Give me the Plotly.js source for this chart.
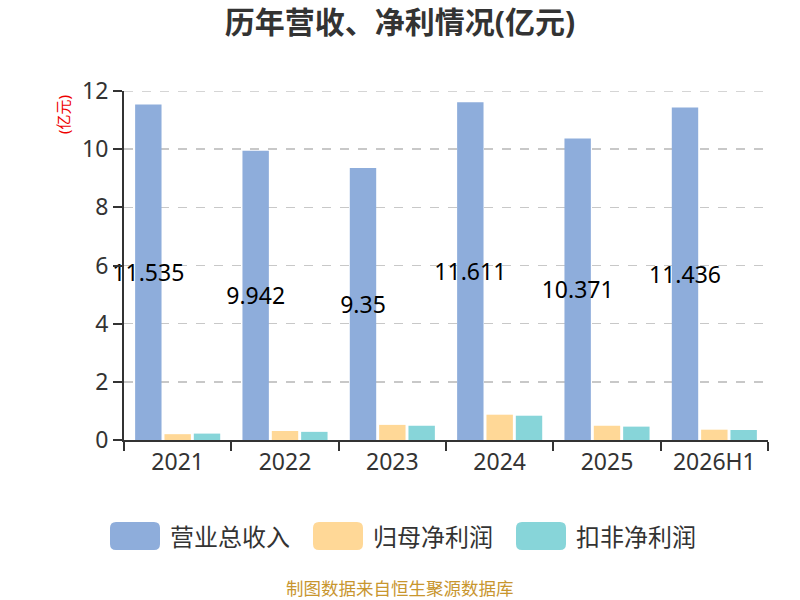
<!DOCTYPE html>
<html>
<head>
<meta charset="utf-8">
<script src="https://cdn.plot.ly/plotly-3.0.1.min.js"></script>
<style>
  html, body { margin: 0; padding: 0; background: #fff; }
  #chart_container { width: 800px; height: 600px; }
</style>
</head>
<body>
<div id="chart_container"></div>
<script>
var years = ['2021', '2022', '2023', '2024', '2025', '2026H1'];
var revenue = [11.535, 9.942, 9.35, 11.611, 10.371, 11.436];
var netProfit = [0.20, 0.31, 0.52, 0.87, 0.49, 0.355];
var deductedProfit = [0.22, 0.28, 0.49, 0.835, 0.46, 0.345];
var seriesNames = ['营业总收入', '归母净利润', '扣非净利润'];
var seriesColors = ['#8eaddb', '#ffd897', '#87d5d9'];
var yMax = 12;

var font = '"Noto Sans", "Noto Sans CJK SC", sans-serif';

var traces = [
  {
    x: years, y: revenue, name: seriesNames[0], type: 'bar',
    marker: {color: seriesColors[0]},
    text: revenue.map(String),
    textposition: 'inside',
    insidetextanchor: 'middle',
    textangle: 0,
    constraintext: 'none',
    cliponaxis: false,
    textfont: {family: font, size: 23, color: '#000'},
    hoverinfo: 'none'
  },
  {
    x: years, y: netProfit, name: seriesNames[1], type: 'bar',
    marker: {color: seriesColors[1]}, hoverinfo: 'none'
  },
  {
    x: years, y: deductedProfit, name: seriesNames[2], type: 'bar',
    marker: {color: seriesColors[2]}, hoverinfo: 'none'
  }
];

// pixel -> paper coords (plot area is 124..768 x 91..440)
function px(x) { return (x - 124) / 644; }
function py(y) { return (440 - y) / 349; }

// hand drawn legend with rounded swatches
var legendX = [110, 313, 516];
var shapes = [];
var annotations = [];
for (var j = 0; j < seriesNames.length; j++) {
  var sx = legendX[j];
  var x0 = px(sx), x1 = px(sx + 50), y0 = py(522), y1 = py(550);
  var rx = 6 / 644, ry = 6 / 349;
  shapes.push({
    type: 'path', xref: 'paper', yref: 'paper',
    path: 'M' + (x0 + rx) + ',' + y0 + ' L' + (x1 - rx) + ',' + y0 +
      ' Q' + x1 + ',' + y0 + ' ' + x1 + ',' + (y0 - ry) +
      ' L' + x1 + ',' + (y1 + ry) + ' Q' + x1 + ',' + y1 + ' ' + (x1 - rx) + ',' + y1 +
      ' L' + (x0 + rx) + ',' + y1 + ' Q' + x0 + ',' + y1 + ' ' + x0 + ',' + (y1 + ry) +
      ' L' + x0 + ',' + (y0 - ry) + ' Q' + x0 + ',' + y0 + ' ' + (x0 + rx) + ',' + y0 + ' Z',
    fillcolor: seriesColors[j], line: {width: 0}
  });
  annotations.push({
    xref: 'paper', yref: 'paper', x: px(sx + 58), y: py(536),
    xanchor: 'left', yanchor: 'middle', showarrow: false,
    text: seriesNames[j], font: {family: font, size: 24, color: '#333'}
  });
}

// top gridline at the range edge (plotly skips it)
shapes.push({
  type: 'line', xref: 'paper', yref: 'y', x0: 0, x1: 1, y0: yMax, y1: yMax,
  layer: 'below', line: {color: '#c8c8c8', width: 1.5, dash: 'dash'}
});

annotations.push({
  xref: 'paper', yref: 'paper', x: px(63), y: py(115),
  xanchor: 'center', yanchor: 'middle', showarrow: false, textangle: -90,
  text: '(亿元)', font: {family: font, size: 15, color: '#e00'}
});
annotations.push({
  xref: 'paper', yref: 'paper', x: px(400), y: py(588),
  xanchor: 'center', yanchor: 'middle', showarrow: false,
  text: '制图数据来自恒生聚源数据库', font: {family: font, size: 17.5, color: '#c8962f'}
});

var layout = {
  width: 800, height: 600,
  margin: {l: 124, r: 32, t: 91, b: 160},
  paper_bgcolor: '#fff', plot_bgcolor: '#fff',
  title: {
    text: '<b>历年营收、净利情况(亿元)</b>',
    x: 0.5, xanchor: 'center', y: 0.962, yanchor: 'middle',
    font: {family: font, size: 30, color: '#333'}
  },
  showlegend: false,
  barmode: 'group',
  bargap: 0.18,
  bargroupgap: 0.1,
  xaxis: {
    type: 'category',
    showline: true, linecolor: '#333', linewidth: 2,
    ticks: 'outside', tickson: 'boundaries', ticklen: 9, tickcolor: '#333', tickwidth: 2,
    tickfont: {family: font, size: 23, color: '#333'},
    showgrid: false, fixedrange: true
  },
  yaxis: {
    range: [0, yMax], dtick: 2,
    showline: true, linecolor: '#333', linewidth: 2,
    ticks: 'outside', ticklen: 9, tickcolor: '#333', tickwidth: 2,
    tickfont: {family: font, size: 23, color: '#333'},
    showgrid: true, gridcolor: '#c8c8c8', griddash: 'dash', gridwidth: 1.5,
    zeroline: false, fixedrange: true
  },
  shapes: shapes,
  annotations: annotations
};

Plotly.newPlot('chart_container', traces, layout, {displayModeBar: false, staticPlot: true});
</script>
</body>
</html>
